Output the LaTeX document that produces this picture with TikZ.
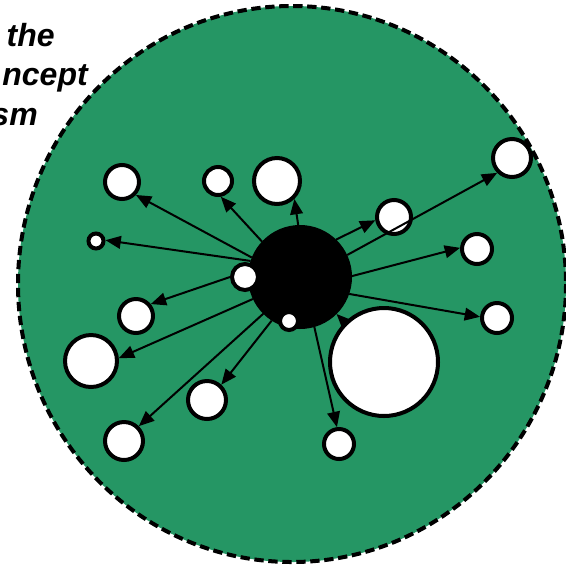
\documentclass[tikz,border=0pt]{standalone}
\usepackage{fontspec}
\setmainfont{Liberation Sans}
\usetikzlibrary{arrows.meta}
\definecolor{field}{RGB}{37,150,100}
\begin{document}
\begin{tikzpicture}[x=0.75pt, y=-0.75pt,
    dot/.style={circle, draw, fill=white, line width=3pt, inner sep=0pt, minimum size=#1},
    link/.style={-{Triangle[length=11.5pt, width=9.5pt]}, line width=1.5pt},
    label/.style={anchor=base east, inner sep=0pt, font=\fontsize{24}{28}\selectfont\bfseries\itshape}]
    \useasboundingbox (0,0) rectangle (566,565);
    \fill[field] (292,284) ellipse [x radius=274, y radius=278];
    \draw[line width=3pt, dash pattern=on 7pt off 3.5pt] (292,284) ellipse [x radius=274, y radius=278];
    \node[label] (t1) at (55,46) {the};
    \node[label] (t2) at (88,85) {ncept};
    \node[label] (t3) at (38,125) {sm};
    \node[circle, fill=black, inner sep=0pt, outer sep=0pt, minimum size=78pt] (hub) at (300,277) {};
    \node[dot=25.5pt] (c1) at (122,182) {};
    \node[dot=21pt] (c2) at (218,181) {};
    \node[dot=34.5pt] (c3) at (277,181) {};
    \node[dot=11.25pt] (c4) at (96,241) {};
    \node[dot=19.5pt] (c5) at (245,277) {};
    \node[dot=25.5pt] (c6) at (136,316) {};
    \node[dot=13.5pt] (c7) at (289,321) {};
    \node[dot=39pt] (c8) at (91,361) {};
    \node[dot=28.5pt] (c9) at (207,400) {};
    \node[dot=28.5pt] (c10) at (124,441) {};
    \node[dot=22.5pt] (c11) at (339,444) {};
    \node[dot=81pt] (c12) at (384,362) {};
    \node[dot=25.5pt] (c13) at (394,217) {};
    \node[dot=28.5pt] (c14) at (512,158) {};
    \node[dot=22.5pt] (c15) at (477,249) {};
    \node[dot=22.5pt] (c16) at (497,318) {};
    \draw[link] (hub.158) -- (c1.-43);
    \draw[link] (hub.162) -- (c4.5);
    \draw[link] (hub.137) -- (c2.-80);
    \draw[link] (hub.92) -- (c3.-46);
    \draw[link] (c5.180) -- (c6.39);
    \draw[link] (hub.-155) -- (c8.6);
    \draw[link] (hub.-135) -- (c10.45);
    \draw[link] (hub.-123) -- (c9.47);
    \draw[link] (hub.-74) -- (c11.97);
    \draw[link] (c12) -- (hub);
    \draw[link] (hub.-19) -- (c16.176);
    \draw[link] (hub.1) -- (c15.176);
    \draw[link] (hub.25) -- (c14.-135);
    \draw[link] (hub.46) -- (c13.190);
\end{tikzpicture}
\end{document}
